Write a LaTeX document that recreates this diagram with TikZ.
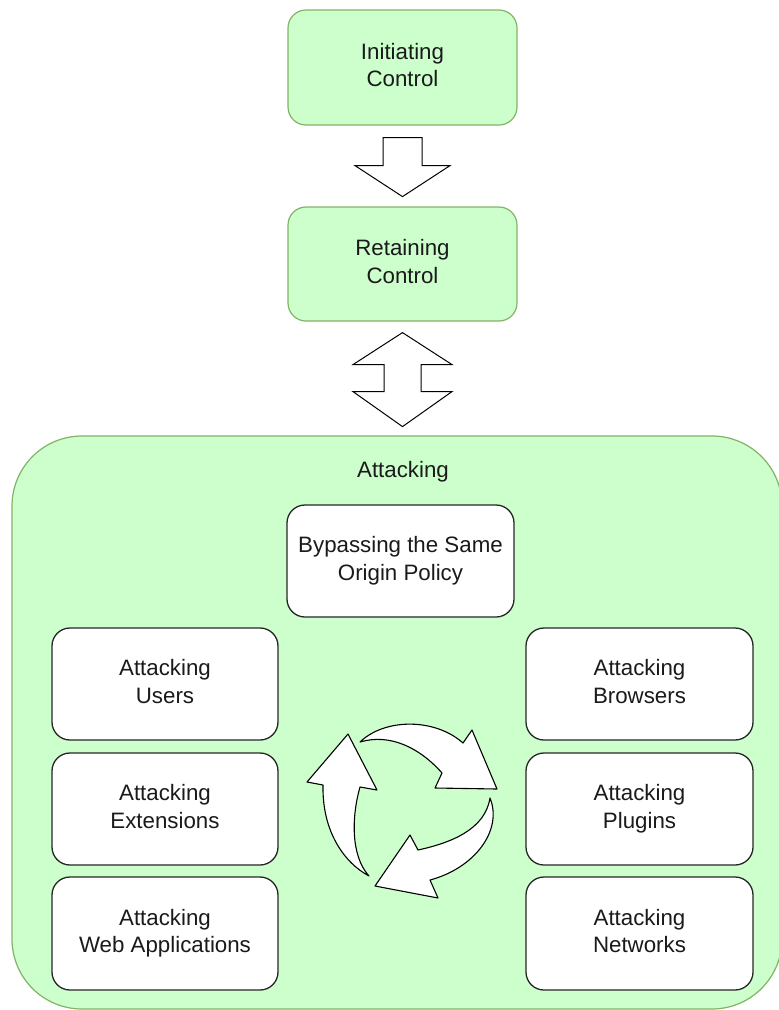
\documentclass[tikz,border=0pt]{standalone}
\usepackage{fontspec}
\setmainfont{Liberation Sans}
\usetikzlibrary{calc}
\definecolor{boxgreen}{HTML}{CCFFCC}
\definecolor{edgegreen}{HTML}{82B366}
\definecolor{txt}{HTML}{1A1A1A}
\definecolor{edgedark}{HTML}{262626}
% two centred lines with equal line boxes, so every label sits at the same height
\newcommand{\twolines}[2]{\strut #1\\\strut #2}
\begin{document}
\begin{tikzpicture}[x=1pt,y=-1pt,
  font=\fontsize{22.3}{27.5}\selectfont,
  greenbox/.style={draw=edgegreen, fill=boxgreen, rounded corners=18, line width=1.2,
    minimum width=229, minimum height=115, align=center, text=txt, inner sep=0},
  whitebox/.style={draw=edgedark, fill=white, rounded corners=18, line width=1.3,
    minimum width=226, minimum height=112, align=center, text=txt, inner sep=0},
  container/.style={draw=edgegreen, fill=boxgreen, rounded corners=70, line width=1.2,
    minimum width=770, minimum height=573, inner sep=0},
  blockarrow/.style={draw=black, fill=white, line width=1, line join=miter},
  cyclearrow/.style={draw=black, fill=white, line width=1.1, line join=round}]
\useasboundingbox (0,0) rectangle (779,1010);

% top stages
\node[greenbox] (init) at (402.5,67.5) {\twolines{Initiating}{Control}};
\node[greenbox, minimum height=114] (ret) at (402.5,264) {\twolines{Retaining}{Control}};

% attacking area
\node[container] (attack) at (397,722.5) {};
\node[text=txt] (attlabel) at ($(attack.north)+(6,36)$) {Attacking};

\node[whitebox, minimum width=227] (sop) at (400.5,561) {\twolines{Bypassing the Same}{Origin Policy}};

\node[whitebox] (users) at (165,684) {\twolines{Attacking}{Users}};
\node[whitebox] (ext)   at (165,809) {\twolines{Attacking}{Extensions}};
\node[whitebox, minimum height=113] (webapp) at (165,933.5) {\twolines{Attacking}{Web Applications}};

\node[whitebox, minimum width=227] (browsers) at (639.5,684) {\twolines{Attacking}{Browsers}};
\node[whitebox, minimum width=227] (plugins)  at (639.5,809) {\twolines{Attacking}{Plugins}};
\node[whitebox, minimum width=227, minimum height=113] (networks) at (639.5,933.5) {\twolines{Attacking}{Networks}};

% block arrow: initiating -> retaining
\draw[blockarrow]
  ($(init.south)+(-19.5,12)$) -- ($(init.south)+(-19.5,40)$) -- ($(init.south)+(-47.5,40)$)
  -- ($(init.south)+(0,71)$)
  -- ($(init.south)+(47.5,40)$) -- ($(init.south)+(19.5,40)$) -- ($(init.south)+(19.5,12)$) -- cycle;

% double block arrow: retaining <-> attacking
\draw[blockarrow]
  ($(ret.south)+(0,11)$) -- ($(ret.south)+(49.5,43)$) -- ($(ret.south)+(18.5,43)$)
  -- ($(ret.south)+(18.5,70)$) -- ($(ret.south)+(49.5,70)$) -- ($(ret.south)+(0,105)$)
  -- ($(ret.south)+(-49.5,70)$) -- ($(ret.south)+(-18.5,70)$) -- ($(ret.south)+(-18.5,43)$)
  -- ($(ret.south)+(-49.5,43)$) -- cycle;

% cycle of three curved arrows
\draw[cyclearrow] (307,782) -- (348,734) -- (377,790) -- (360,787)
  .. controls (352,815) and (350,855) .. (369,876)
  .. controls (343,862) and (322,830) .. (323,785) -- cycle;
\draw[cyclearrow] (360,742) .. controls (385,718) and (435,718) .. (463,743)
  -- (472,730) -- (497,789) -- (435,788) -- (442,773)
  .. controls (420,748) and (390,733) .. (360,742) -- cycle;
\draw[cyclearrow] (490,798) .. controls (503,830) and (475,868) .. (430,880)
  -- (438,898) -- (375,886) -- (410,835) -- (418,850)
  .. controls (450,843) and (485,830) .. (490,798) -- cycle;
\end{tikzpicture}
\end{document}
